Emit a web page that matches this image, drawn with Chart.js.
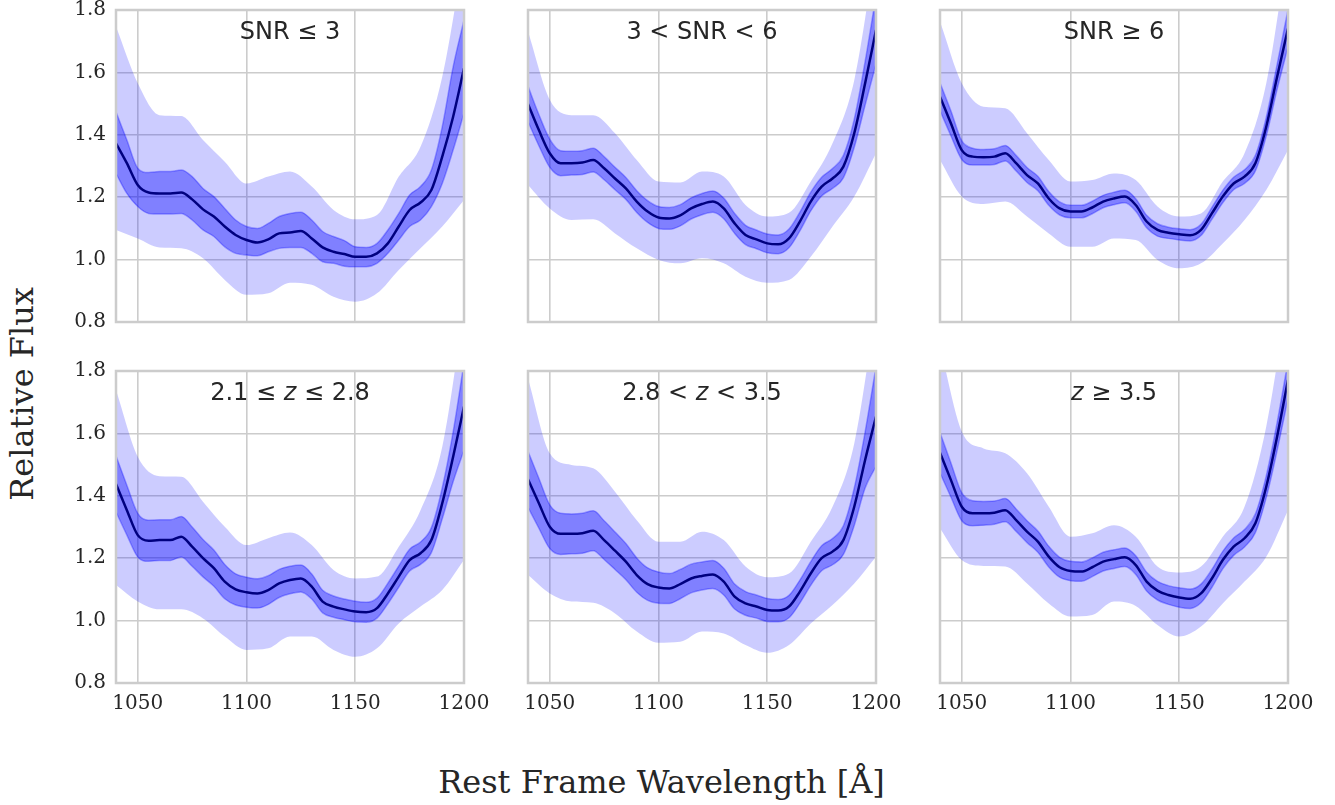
<!DOCTYPE html>
<html lang="en">
<head>
    <meta charset="UTF-8">
    <title>Relative Flux by SNR and Redshift</title>
    <style>
        body {
            margin: 0;
            background: #ffffff;
            width: 1335px;
            height: 805px;
            position: relative;
            overflow: hidden;
        }
        canvas {
            position: absolute;
        }
        .panel-title {
            position: absolute;
            width: 348px;
            text-align: center;
            font-family: 'DejaVu Sans', sans-serif;
            font-size: 24px;
            line-height: 1;
            color: #262626;
        }
        .panel-title i {
            font-style: oblique;
        }
        .xlabel, .ylabel {
            position: absolute;
            font-family: 'DejaVu Serif', serif;
            font-size: 32px;
            line-height: 1;
            color: #262626;
            white-space: nowrap;
        }
        .xlabel {
            left: -6px;
            width: 1335px;
            top: 766px;
            text-align: center;
        }
        .ylabel {
            left: 22px;
            top: 394px;
            transform: translate(-50%, -50%) rotate(-90deg);
        }
    </style>
</head>
<body>
    <div class="ylabel">Relative Flux</div>
    <div class="xlabel">Rest Frame Wavelength [Å]</div>

    <script src="https://cdn.jsdelivr.net/npm/chart.js"></script>
    <script>
        // wavelength grids (Å)
        const wl5 = [1040, 1045, 1050, 1055, 1060, 1065, 1070, 1075, 1080, 1085, 1090, 1095, 1100, 1105, 1110, 1115,
                     1120, 1125, 1130, 1135, 1140, 1145, 1150, 1155, 1160, 1165, 1170, 1175, 1180, 1185, 1190, 1195, 1200];
        const wl10 = [1040, 1050, 1060, 1070, 1080, 1090, 1100, 1110, 1120, 1130, 1140, 1150, 1160, 1170, 1180, 1190, 1200];
        const xTicks = [1050, 1100, 1150, 1200];
        const yTicks = [0.8, 1.0, 1.2, 1.4, 1.6, 1.8];

        const titles = ['SNR ≤ 3', '3 &lt; SNR &lt; 6', 'SNR ≥ 6',
                        '2.1 ≤ <i>z</i> ≤ 2.8', '2.8 &lt; <i>z</i> &lt; 3.5', '<i>z</i> ≥ 3.5'];

        // SNR <= 3
        const p1Median = [1.373, 1.309, 1.239, 1.215, 1.212, 1.212, 1.215, 1.193, 1.161, 1.138, 1.106, 1.079, 1.063, 1.055, 1.065, 1.084,
                          1.087, 1.092, 1.068, 1.039, 1.025, 1.018, 1.009, 1.009, 1.020, 1.052, 1.106, 1.159, 1.183, 1.223, 1.330, 1.458, 1.613];
        const p1InnerHi = [1.474, 1.383, 1.293, 1.279, 1.282, 1.282, 1.287, 1.266, 1.228, 1.202, 1.164, 1.127, 1.106, 1.100, 1.116, 1.138,
                           1.148, 1.152, 1.127, 1.090, 1.074, 1.061, 1.041, 1.039, 1.052, 1.095, 1.148, 1.207, 1.234, 1.287, 1.426, 1.618, 1.768];
        const p1InnerLo = [1.276, 1.212, 1.170, 1.148, 1.146, 1.146, 1.148, 1.127, 1.095, 1.074, 1.041, 1.020, 1.015, 1.012, 1.025, 1.036,
                           1.039, 1.039, 1.020, 0.993, 0.988, 0.979, 0.977, 0.977, 0.988, 1.020, 1.063, 1.106, 1.127, 1.170, 1.244, 1.351, 1.469];
        const p1OuterHi = [1.747, 1.565, 1.463, 1.460, 1.383, 1.314, 1.244, 1.266, 1.282, 1.234, 1.159, 1.129, 1.143, 1.266, 1.362, 1.586, 1.98];
        const p1OuterLo = [1.095, 1.068, 1.039, 1.036, 1.004, 0.935, 0.887, 0.892, 0.926, 0.919, 0.881, 0.865, 0.892, 0.967, 1.036, 1.106, 1.191];

        // 3 < SNR < 6
        const p2Median = [1.499, 1.415, 1.341, 1.309, 1.309, 1.311, 1.319, 1.293, 1.260, 1.228, 1.186, 1.154, 1.135, 1.132, 1.142, 1.164,
                          1.178, 1.186, 1.164, 1.116, 1.079, 1.065, 1.052, 1.049, 1.068, 1.122, 1.186, 1.234, 1.260, 1.298, 1.405, 1.565, 1.736];
        const p2InnerHi = [1.556, 1.465, 1.386, 1.349, 1.347, 1.349, 1.357, 1.330, 1.296, 1.263, 1.221, 1.189, 1.170, 1.167, 1.176, 1.198,
                           1.212, 1.220, 1.197, 1.148, 1.110, 1.095, 1.082, 1.079, 1.098, 1.152, 1.216, 1.264, 1.292, 1.334, 1.450, 1.635, 1.846];
        const p2InnerLo = [1.442, 1.365, 1.296, 1.269, 1.271, 1.273, 1.281, 1.256, 1.224, 1.193, 1.151, 1.119, 1.100, 1.097, 1.108, 1.130,
                           1.144, 1.152, 1.131, 1.084, 1.048, 1.035, 1.022, 1.019, 1.038, 1.092, 1.156, 1.204, 1.228, 1.262, 1.360, 1.495, 1.626];
        const p2OuterHi = [1.731, 1.512, 1.463, 1.463, 1.405, 1.319, 1.250, 1.247, 1.282, 1.266, 1.175, 1.138, 1.150, 1.250, 1.373, 1.575, 2.0];
        const p2OuterLo = [1.239, 1.164, 1.127, 1.129, 1.084, 1.036, 0.999, 0.988, 1.004, 0.988, 0.945, 0.926, 0.935, 1.009, 1.106, 1.202, 1.341];

        // SNR >= 6
        const p3Median = [1.522, 1.437, 1.351, 1.330, 1.328, 1.330, 1.341, 1.309, 1.271, 1.244, 1.196, 1.164, 1.154, 1.154, 1.167, 1.186,
                          1.196, 1.202, 1.175, 1.122, 1.095, 1.086, 1.081, 1.078, 1.095, 1.148, 1.202, 1.244, 1.266, 1.309, 1.426, 1.586, 1.741];
        const p3InnerHi = [1.567, 1.477, 1.381, 1.357, 1.353, 1.355, 1.366, 1.334, 1.295, 1.267, 1.218, 1.185, 1.174, 1.174, 1.187, 1.206,
                           1.216, 1.222, 1.195, 1.142, 1.115, 1.104, 1.099, 1.096, 1.113, 1.167, 1.222, 1.264, 1.288, 1.334, 1.456, 1.626, 1.801];
        const p3InnerLo = [1.477, 1.397, 1.321, 1.303, 1.303, 1.305, 1.316, 1.284, 1.247, 1.221, 1.174, 1.143, 1.134, 1.134, 1.147, 1.166,
                           1.176, 1.182, 1.155, 1.102, 1.075, 1.068, 1.063, 1.060, 1.077, 1.129, 1.182, 1.224, 1.244, 1.284, 1.396, 1.546, 1.681];
        const p3OuterHi = [1.763, 1.565, 1.490, 1.485, 1.405, 1.319, 1.250, 1.255, 1.276, 1.255, 1.170, 1.138, 1.148, 1.250, 1.341, 1.565, 2.0];
        const p3OuterLo = [1.319, 1.202, 1.178, 1.186, 1.138, 1.084, 1.041, 1.041, 1.068, 1.063, 0.999, 0.972, 0.988, 1.052, 1.127, 1.223, 1.351];

        // 2.1 <= z <= 2.8
        const p4Median = [1.438, 1.354, 1.274, 1.256, 1.258, 1.258, 1.269, 1.237, 1.200, 1.168, 1.125, 1.100, 1.091, 1.087, 1.098, 1.119,
                          1.130, 1.135, 1.109, 1.061, 1.045, 1.036, 1.029, 1.027, 1.040, 1.087, 1.141, 1.194, 1.216, 1.258, 1.376, 1.525, 1.686];
        const p4InnerHi = [1.528, 1.434, 1.344, 1.322, 1.323, 1.323, 1.334, 1.300, 1.260, 1.226, 1.180, 1.150, 1.139, 1.134, 1.144, 1.164,
                           1.174, 1.178, 1.149, 1.097, 1.079, 1.069, 1.062, 1.059, 1.072, 1.120, 1.175, 1.229, 1.252, 1.298, 1.426, 1.605, 1.826];
        const p4InnerLo = [1.348, 1.274, 1.204, 1.190, 1.193, 1.193, 1.204, 1.174, 1.140, 1.110, 1.070, 1.050, 1.043, 1.040, 1.052, 1.074,
                           1.086, 1.092, 1.069, 1.025, 1.011, 1.003, 0.996, 0.995, 1.008, 1.054, 1.107, 1.159, 1.180, 1.218, 1.326, 1.445, 1.546];
        const p4OuterHi = [1.739, 1.525, 1.463, 1.461, 1.381, 1.301, 1.242, 1.264, 1.282, 1.242, 1.162, 1.135, 1.141, 1.237, 1.354, 1.557, 2.0];
        const p4OuterLo = [1.114, 1.061, 1.036, 1.036, 1.007, 0.949, 0.906, 0.911, 0.949, 0.949, 0.906, 0.884, 0.911, 0.991, 1.045, 1.098, 1.194];

        // 2.8 < z < 3.5
        const p5Median = [1.453, 1.376, 1.301, 1.278, 1.278, 1.280, 1.288, 1.258, 1.224, 1.189, 1.146, 1.117, 1.106, 1.103, 1.117, 1.135,
                          1.143, 1.148, 1.125, 1.077, 1.055, 1.045, 1.034, 1.032, 1.045, 1.093, 1.151, 1.200, 1.221, 1.258, 1.365, 1.515, 1.654];
        const p5InnerHi = [1.543, 1.456, 1.371, 1.344, 1.342, 1.344, 1.352, 1.320, 1.284, 1.247, 1.201, 1.169, 1.156, 1.151, 1.164, 1.181,
                           1.188, 1.193, 1.168, 1.117, 1.093, 1.082, 1.071, 1.068, 1.081, 1.130, 1.189, 1.240, 1.263, 1.304, 1.425, 1.605, 1.814];
        const p5InnerLo = [1.363, 1.296, 1.231, 1.212, 1.214, 1.216, 1.224, 1.196, 1.164, 1.131, 1.091, 1.065, 1.056, 1.055, 1.070, 1.089,
                           1.098, 1.103, 1.082, 1.037, 1.017, 1.008, 0.997, 0.996, 1.009, 1.056, 1.113, 1.160, 1.179, 1.212, 1.305, 1.425, 1.494];
        const p5OuterHi = [1.776, 1.536, 1.499, 1.488, 1.413, 1.322, 1.253, 1.253, 1.285, 1.258, 1.173, 1.139, 1.151, 1.253, 1.365, 1.568, 2.0];
        const p5OuterLo = [1.146, 1.087, 1.061, 1.057, 1.023, 0.965, 0.929, 0.932, 0.965, 0.959, 0.922, 0.897, 0.922, 0.991, 1.050, 1.119, 1.205];

        // z >= 3.5
        const p6Median = [1.538, 1.451, 1.365, 1.344, 1.344, 1.346, 1.354, 1.322, 1.285, 1.253, 1.205, 1.171, 1.159, 1.157, 1.171, 1.189,
                          1.197, 1.203, 1.178, 1.125, 1.096, 1.082, 1.074, 1.070, 1.087, 1.135, 1.194, 1.237, 1.264, 1.312, 1.429, 1.590, 1.771];
        const p6InnerHi = [1.603, 1.506, 1.410, 1.384, 1.382, 1.383, 1.391, 1.358, 1.320, 1.287, 1.238, 1.203, 1.190, 1.188, 1.201, 1.219,
                           1.227, 1.233, 1.208, 1.155, 1.126, 1.112, 1.105, 1.101, 1.117, 1.164, 1.222, 1.265, 1.292, 1.342, 1.464, 1.635, 1.831];
        const p6InnerLo = [1.473, 1.396, 1.320, 1.304, 1.306, 1.309, 1.317, 1.286, 1.250, 1.219, 1.172, 1.139, 1.128, 1.126, 1.141, 1.159,
                           1.167, 1.173, 1.148, 1.095, 1.066, 1.052, 1.043, 1.039, 1.057, 1.106, 1.166, 1.209, 1.236, 1.282, 1.394, 1.545, 1.711];
        const p6OuterHi = [1.88, 1.606, 1.552, 1.536, 1.472, 1.365, 1.269, 1.280, 1.306, 1.269, 1.173, 1.154, 1.173, 1.269, 1.365, 1.622, 2.05];
        const p6OuterLo = [1.296, 1.194, 1.175, 1.173, 1.119, 1.055, 1.013, 1.018, 1.061, 1.047, 0.986, 0.949, 0.981, 1.055, 1.125, 1.205, 1.354];

        const panels = [
            [p1Median, p1InnerHi, p1InnerLo, p1OuterHi, p1OuterLo],
            [p2Median, p2InnerHi, p2InnerLo, p2OuterHi, p2OuterLo],
            [p3Median, p3InnerHi, p3InnerLo, p3OuterHi, p3OuterLo],
            [p4Median, p4InnerHi, p4InnerLo, p4OuterHi, p4OuterLo],
            [p5Median, p5InnerHi, p5InnerLo, p5OuterHi, p5OuterLo],
            [p6Median, p6InnerHi, p6InnerLo, p6OuterHi, p6OuterLo]
        ];

        // layout of the plot areas (px)
        const colLeft = [116, 528, 940];
        const rowTop = [10, 371];
        const plotW = 348, plotH = 312;
        const padL = 80, padT = 20, padR = 30, padB = 45;

        const pts = (xs, ys) => xs.map((x, i) => ({ x: x, y: ys[i] }));

        // light grey frame around each plot area
        const framePlugin = {
            id: 'frame',
            afterDatasetsDraw(chart) {
                const a = chart.chartArea, ctx = chart.ctx;
                ctx.save();
                ctx.strokeStyle = '#cccccc';
                ctx.lineWidth = 2.5;
                ctx.strokeRect(a.left, a.top, a.right - a.left, a.bottom - a.top);
                ctx.restore();
            }
        };

        panels.forEach((p, k) => {
            const col = k % 3, row = Math.floor(k / 3);
            const [median, innerHi, innerLo, outerHi, outerLo] = p;

            const canvas = document.createElement('canvas');
            canvas.width = padL + plotW + padR;
            canvas.height = padT + plotH + padB;
            canvas.style.left = (colLeft[col] - padL) + 'px';
            canvas.style.top = (rowTop[row] - padT) + 'px';
            document.body.appendChild(canvas);

            const title = document.createElement('div');
            title.className = 'panel-title';
            title.innerHTML = titles[k];
            title.style.left = colLeft[col] + 'px';
            title.style.top = (rowTop[row] + 9) + 'px';
            document.body.appendChild(title);

            const band = {
                pointRadius: 0,
                cubicInterpolationMode: 'monotone'
            };

            new Chart(canvas, {
                type: 'line',
                data: {
                    datasets: [
                        { ...band, data: pts(wl10, outerLo), borderWidth: 0, fill: false },
                        { ...band, data: pts(wl10, outerHi), borderWidth: 0, fill: '-1',
                          backgroundColor: 'rgba(0, 0, 255, 0.2)' },
                        { ...band, data: pts(wl5, innerLo), borderWidth: 1.5, borderColor: 'rgba(0, 0, 255, 0.3)', fill: false },
                        { ...band, data: pts(wl5, innerHi), borderWidth: 1.5, borderColor: 'rgba(0, 0, 255, 0.3)', fill: '-1',
                          backgroundColor: 'rgba(0, 0, 255, 0.375)' },
                        { ...band, data: pts(wl5, median), borderWidth: 2.5, borderColor: '#000000', fill: false }
                    ]
                },
                options: {
                    responsive: false,
                    animation: false,
                    devicePixelRatio: 1,
                    layout: { padding: { left: padL - 60, top: padT, right: padR, bottom: 0 } },
                    plugins: {
                        legend: { display: false },
                        tooltip: { enabled: false }
                    },
                    scales: {
                        x: {
                            type: 'linear',
                            min: 1040,
                            max: 1200,
                            afterBuildTicks: s => { s.ticks = xTicks.map(v => ({ value: v })); },
                            afterFit: s => {
                                s.height = padB;
                                s.paddingLeft = s.paddingRight = 0;
                            },
                            grid: { color: '#cccccc', lineWidth: 1.6, drawTicks: false },
                            border: { display: false },
                            ticks: {
                                display: row === 1,
                                padding: 9,
                                color: '#262626',
                                font: { family: 'DejaVu Serif', size: 20 },
                                maxRotation: 0,
                                callback: v => String(v)
                            }
                        },
                        y: {
                            min: 0.8,
                            max: 1.8,
                            afterBuildTicks: s => { s.ticks = yTicks.map(v => ({ value: v })); },
                            afterFit: s => {
                                s.width = 60;
                                s.paddingTop = s.paddingBottom = 0;
                            },
                            grid: { color: '#cccccc', lineWidth: 1.6, drawTicks: false },
                            border: { display: false },
                            ticks: {
                                display: col === 0,
                                padding: 10,
                                color: '#262626',
                                font: { family: 'DejaVu Serif', size: 20 },
                                callback: v => v.toFixed(1)
                            }
                        }
                    }
                },
                plugins: [framePlugin]
            });
        });
    </script>
</body>
</html>
